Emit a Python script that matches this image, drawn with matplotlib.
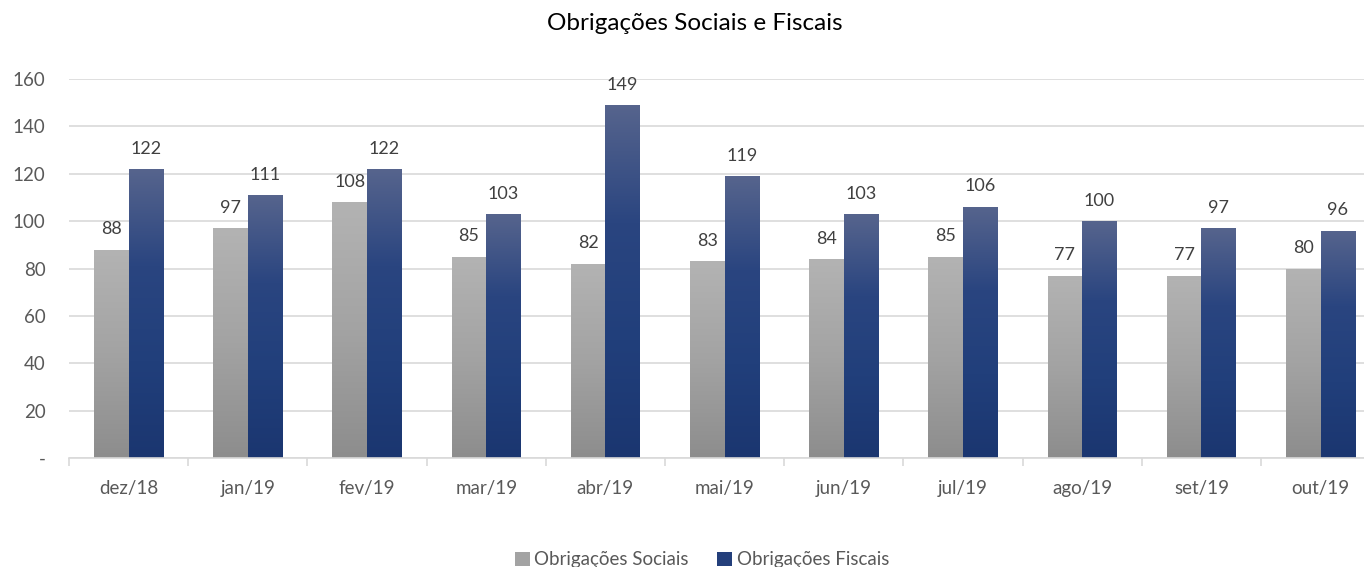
import numpy as np
import matplotlib
matplotlib.use("Agg")
import matplotlib.pyplot as plt
from matplotlib.colors import LinearSegmentedColormap
from matplotlib.patches import Patch

meses = ["dez/18", "jan/19", "fev/19", "mar/19", "abr/19", "mai/19",
         "jun/19", "jul/19", "ago/19", "set/19", "out/19"]
sociais = [88, 97, 108, 85, 82, 83, 84, 85, 77, 77, 80]
fiscais = [122, 111, 122, 103, 149, 119, 103, 106, 100, 97, 96]
yticks = [0, 20, 40, 60, 80, 100, 120, 140, 160]
ytick_labels = ["-", "20", "40", "60", "80", "100", "120", "140", "160"]

plt.rcParams["font.family"] = ["Lato", "DejaVu Sans"]
cinza_txt = "#595959"

cmap_cinza = LinearSegmentedColormap.from_list("cinza", ["#b3b3b3", "#a3a3a3", "#8d8d8d"])
cmap_azul = LinearSegmentedColormap.from_list("azul", ["#56648d", "#2a4580", "#213f7b", "#1b3670"])

fig = plt.figure(figsize=(13.64, 5.67), dpi=100)
ax = fig.add_axes([69 / 1364, 1 - 458 / 567, 1 - 69 / 1364, (458 - 79) / 567])

x = np.arange(len(meses))
w = 0.29
b1 = ax.bar(x - w / 2, sociais, w, facecolor="none", edgecolor="none", zorder=2)
b2 = ax.bar(x + w / 2, fiscais, w, facecolor="none", edgecolor="none", zorder=2)

grad = np.linspace(0, 1, 256).reshape(-1, 1)
for barras, cmap in [(b1, cmap_cinza), (b2, cmap_azul)]:
    for r in barras:
        x0, y0 = r.get_x(), r.get_y()
        x1, y1 = x0 + r.get_width(), y0 + r.get_height()
        im = ax.imshow(grad, cmap=cmap, extent=[x0, x1, y0, y1], origin="upper",
                       aspect="auto", zorder=2, interpolation="bilinear")
        im.set_clip_path(r)

for barras, vals in [(b1, sociais), (b2, fiscais)]:
    for r, v in zip(barras, vals):
        ax.annotate(str(v), (r.get_x() + r.get_width() / 2, r.get_height()),
                    xytext=(0, 9), textcoords="offset points", ha="center", va="bottom",
                    fontsize=13, color="#404040")

ax.set_yticks(yticks)
ax.set_yticklabels(ytick_labels)
ax.yaxis.grid(True, color="#d9d9d9", linewidth=1.2, zorder=0)
ax.set_axisbelow(True)

ax.set_xticks(x)
ax.set_xticklabels(meses)
ax.set_xticks(np.arange(len(meses) + 1) - 0.5, minor=True)
# limits after the ticks, otherwise set_xticks widens them again
ax.set_xlim(-0.5, (1364 - 69) / 119.2 - 0.5)
ax.set_ylim(0, 160)
ax.tick_params(axis="x", which="major", length=0, pad=16, labelsize=13.5, labelcolor=cinza_txt)
ax.tick_params(axis="x", which="minor", length=6, color="#d9d9d9", width=1.2)
ax.tick_params(axis="y", length=0, pad=17, labelsize=13.5, labelcolor=cinza_txt)

for s in ["top", "right", "left"]:
    ax.spines[s].set_visible(False)
ax.spines["bottom"].set_color("#d9d9d9")
ax.spines["bottom"].set_linewidth(1.2)

fig.text(695 / 1364, 1 - 24 / 567, "Obrigações Sociais e Fiscais", ha="center", va="center",
         fontsize=17.5, color="#000000")

handles = [Patch(facecolor="#a3a3a3", label="Obrigações Sociais"),
           Patch(facecolor="#243f7b", label="Obrigações Fiscais")]
fig.legend(handles=handles, loc="center", bbox_to_anchor=(702 / 1364, 1 - 560 / 567), ncol=2,
           frameon=False, fontsize=13.5, labelcolor=cinza_txt, handlelength=0.8,
           handleheight=0.8, handletextpad=0.25, columnspacing=1.5)

fig.savefig("out.png", dpi=100)
